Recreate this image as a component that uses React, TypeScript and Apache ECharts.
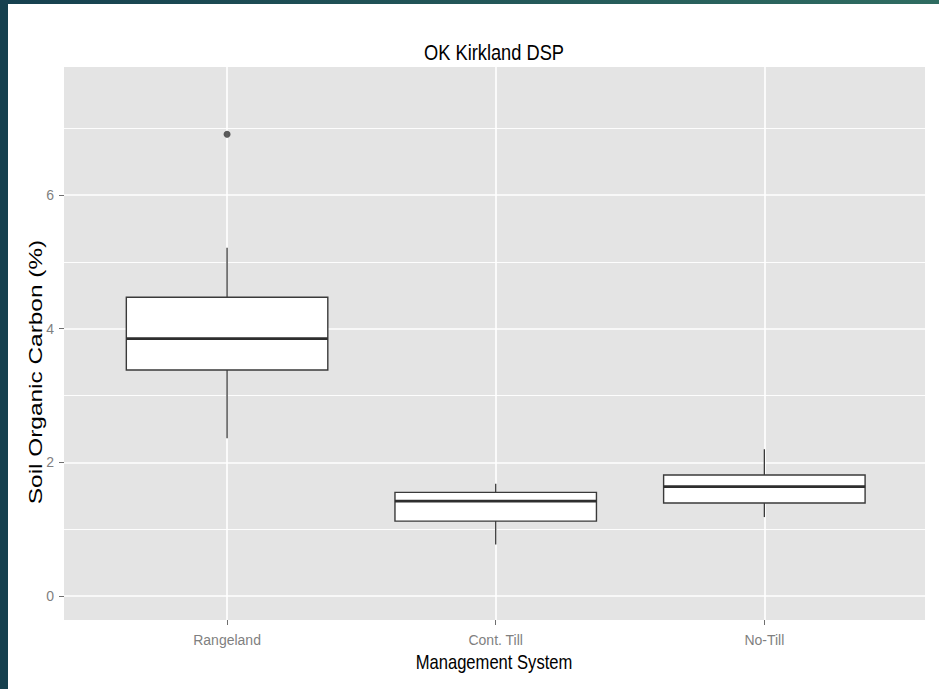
import React, { useEffect, useRef } from "react";
import * as echarts from "echarts";

const categories = ["Rangeland", "Cont. Till", "No-Till"];
const lowerWhisker = [2.36, 0.77, 1.18];
const q1 = [3.38, 1.12, 1.39];
const median = [3.85, 1.42, 1.635];
const q3 = [4.47, 1.55, 1.81];
const upperWhisker = [5.21, 1.68, 2.195];
const outliers = [[1, 6.91]];
const yTickValues = [0, 2, 4, 6];
const yMinorValues = [1, 3, 5, 7];
const xTickValues = [1, 2, 3];

const FONT = "Liberation Sans, Arial, sans-serif";

export default function App() {
  const ref = useRef<HTMLDivElement>(null);
  useEffect(() => {
    document.body.style.margin = "0";
    const chart = echarts.init(ref.current!, undefined, { renderer: "svg" });
    const boxData = categories.map((_, i) => [
      i + 1,
      lowerWhisker[i],
      q1[i],
      median[i],
      q3[i],
      upperWhisker[i],
    ]);
    const half = 0.375;
    const gridLine = (w: number) => ({ color: "#ffffff", width: w, type: "solid" });
    const markData = [
      ...yTickValues.map((v) => ({ yAxis: v, lineStyle: gridLine(1.6) })),
      ...yMinorValues.map((v) => ({ yAxis: v, lineStyle: gridLine(0.9) })),
      ...xTickValues.map((v) => ({ xAxis: v, lineStyle: gridLine(1.6) })),
    ];
    chart.setOption({
      animation: false,
      backgroundColor: "#ffffff",
      textStyle: { fontFamily: FONT },
      grid: {
        left: 64,
        top: 67,
        width: 861,
        height: 553,
        show: true,
        backgroundColor: "#e4e4e4",
        borderWidth: 0,
      },
      xAxis: {
        type: "value",
        min: 0.393,
        max: 3.598,
        axisLine: { show: false, onZero: false },
        splitLine: { show: false },
        axisTick: {
          show: true,
          length: 5,
          customValues: xTickValues,
          lineStyle: { color: "#6f6f6f", width: 1 },
        },
        axisLabel: {
          customValues: xTickValues,
          formatter: (v: number) => categories[Math.round(v) - 1] ?? "",
          color: "#7f7f7f",
          fontSize: 14,
          margin: 13,
          fontFamily: FONT,
        },
      },
      yAxis: {
        type: "value",
        min: -0.36,
        max: 7.915,
        axisLine: { show: false, onZero: false },
        splitLine: { show: false },
        axisTick: {
          show: true,
          length: 5,
          customValues: yTickValues,
          lineStyle: { color: "#6f6f6f", width: 1 },
        },
        axisLabel: {
          customValues: yTickValues,
          color: "#7f7f7f",
          fontSize: 14,
          margin: 10,
          fontFamily: FONT,
        },
      },
      graphic: [
        {
          type: "rect",
          left: 0,
          top: 0,
          shape: { x: 0, y: 0, width: 8, height: 689 },
          style: { fill: "#15404e" },
          z: 100,
        },
        {
          type: "rect",
          left: 0,
          top: 0,
          shape: { x: 0, y: 0, width: 939, height: 4 },
          style: {
            fill: new echarts.graphic.LinearGradient(0, 0, 1, 0, [
              { offset: 0, color: "#16404f" },
              { offset: 1, color: "#2f6c61" },
            ]),
          },
          z: 100,
        },
        {
          type: "text",
          x: 494,
          y: 52,
          scaleX: 0.83,
          style: {
            text: "OK Kirkland DSP",
            fill: "#000000",
            fontSize: 22,
            fontFamily: FONT,
            align: "center",
            verticalAlign: "middle",
          },
        },
        {
          type: "text",
          x: 494,
          y: 662,
          scaleX: 0.83,
          style: {
            text: "Management System",
            fill: "#000000",
            fontSize: 20,
            fontFamily: FONT,
            align: "center",
            verticalAlign: "middle",
          },
        },
        {
          type: "text",
          x: 36,
          y: 372,
          rotation: Math.PI / 2,
          scaleX: 1.22,
          scaleY: 0.9,
          style: {
            text: "Soil Organic Carbon (%)",
            fill: "#000000",
            fontSize: 20,
            fontFamily: FONT,
            align: "center",
            verticalAlign: "middle",
          },
        },
      ],
      series: [
        {
          type: "line",
          data: [],
          z: 1,
          silent: true,
          markLine: {
            silent: true,
            z: 1,
            symbol: "none",
            animation: false,
            label: { show: false },
            emphasis: { disabled: true },
            data: markData,
          },
        },
        {
          type: "custom",
          z: 3,
          data: boxData,
          encode: { x: 0, y: [1, 2, 3, 4, 5] },
          renderItem: (params: any, api: any) => {
            const x = api.value(0);
            const lw = api.value(1);
            const lq = api.value(2);
            const md = api.value(3);
            const uq = api.value(4);
            const uw = api.value(5);
            const tl = api.coord([x - half, uq]);
            const br = api.coord([x + half, lq]);
            const ml = api.coord([x - half, md]);
            const mr = api.coord([x + half, md]);
            const pUw = api.coord([x, uw]);
            const pUq = api.coord([x, uq]);
            const pLq = api.coord([x, lq]);
            const pLw = api.coord([x, lw]);
            const stroke = "#3a3a3a";
            return {
              type: "group",
              children: [
                {
                  type: "line",
                  shape: { x1: pUw[0], y1: pUw[1], x2: pUq[0], y2: pUq[1] },
                  style: { stroke, lineWidth: 1.3 },
                },
                {
                  type: "line",
                  shape: { x1: pLq[0], y1: pLq[1], x2: pLw[0], y2: pLw[1] },
                  style: { stroke, lineWidth: 1.3 },
                },
                {
                  type: "rect",
                  shape: {
                    x: tl[0],
                    y: tl[1],
                    width: br[0] - tl[0],
                    height: br[1] - tl[1],
                  },
                  style: { fill: "#ffffff", stroke, lineWidth: 1.4 },
                },
                {
                  type: "line",
                  shape: { x1: ml[0], y1: ml[1], x2: mr[0], y2: mr[1] },
                  style: { stroke: "#2e2e2e", lineWidth: 2.7 },
                },
              ],
            };
          },
        },
        {
          type: "scatter",
          z: 4,
          data: outliers,
          symbol: "circle",
          symbolSize: 7,
          itemStyle: { color: "#333333" },
        },
      ],
    });
    return () => chart.dispose();
  }, []);
  return <div ref={ref} style={{ width: 939, height: 689 }} />;
}
